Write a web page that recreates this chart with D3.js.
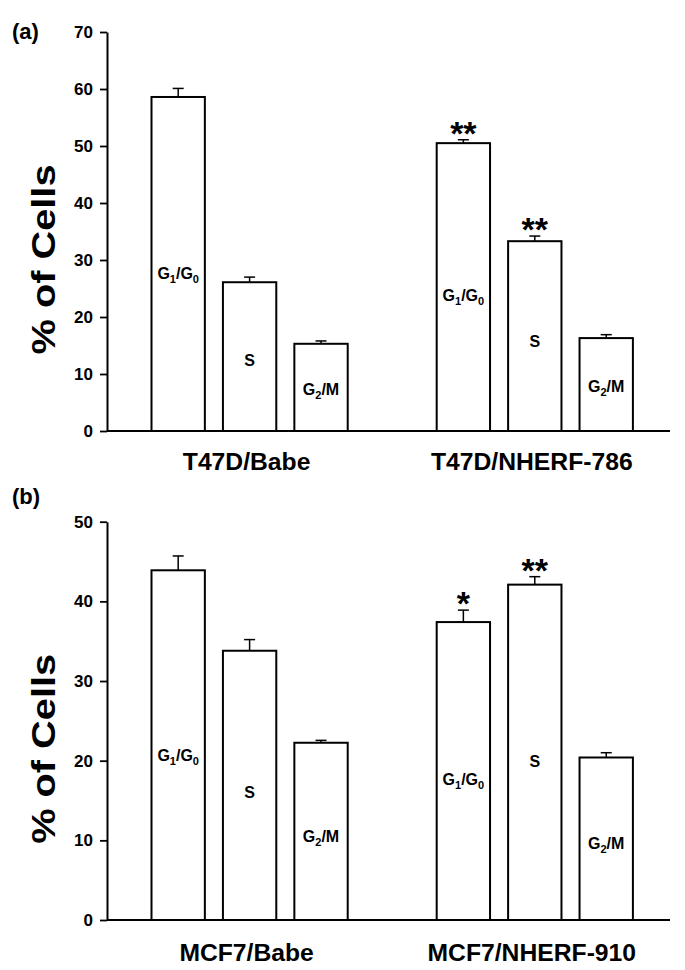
<!DOCTYPE html>
<html><head><meta charset="utf-8">
<script src="https://cdn.jsdelivr.net/npm/d3@7/dist/d3.min.js"></script>
<style>body{margin:0;background:#fff}svg{display:block}text{font-family:Arial,"Liberation Sans",sans-serif;font-weight:bold;fill:#000}</style>
</head><body>
<svg id="chart" width="685" height="970"></svg>
<script>
// ---- data ----
const phases = ["G1/G0", "S", "G2/M"];
const groupsA = ["T47D/Babe", "T47D/NHERF-786"];
const valuesA = [[58.6, 26.1, 15.3], [50.5, 33.3, 16.3]];
const errorsA = [[1.5, 0.9, 0.5], [0.6, 0.9, 0.6]];
const signifA = [["", "", ""], ["**", "**", ""]];
const ticksA = [0, 10, 20, 30, 40, 50, 60, 70];

const groupsB = ["MCF7/Babe", "MCF7/NHERF-910"];
const valuesB = [[43.9, 33.8, 22.25], [37.4, 42.1, 20.4]];
const errorsB = [[1.8, 1.4, 0.3], [1.5, 1.0, 0.6]];
const signifB = [["", "", ""], ["*", "**", ""]];
const ticksB = [0, 10, 20, 30, 40, 50];

const svg = d3.select("#chart");

function phaseLabel(sel, p) {
  if (p === "S") { sel.append("tspan").text("S"); return; }
  if (p === "G1/G0") {
    sel.append("tspan").text("G");
    sel.append("tspan").attr("font-size", 11).attr("dy", 4).text("1");
    sel.append("tspan").attr("dy", -4).text("/G");
    sel.append("tspan").attr("font-size", 11).attr("dy", 4).text("0");
  } else {
    sel.append("tspan").text("G");
    sel.append("tspan").attr("font-size", 11).attr("dy", 4).text("2");
    sel.append("tspan").attr("dy", -4).text("/M");
  }
}

function panel(opt) {
  const g = svg.append("g");
  const y = d3.scaleLinear().domain([0, opt.max]).range([opt.y0, opt.y1]);
  const x0 = d3.scaleBand().domain(opt.groups).range([151.5, 632.9]).paddingInner(0.312).paddingOuter(0);
  const x1 = d3.scaleBand().domain(phases).range([0, x0.bandwidth()]).paddingInner(0.253).paddingOuter(0);

  const ax = g.append("g").attr("transform", `translate(${opt.axisX},0)`)
    .call(d3.axisLeft(y).tickValues(opt.ticks).tickSize(7).tickSizeOuter(0).tickPadding(7).tickFormat(d3.format("d")));
  ax.select(".domain").attr("stroke", "#000").attr("stroke-width", 2);
  ax.selectAll(".tick line").attr("stroke", "#000").attr("stroke-width", 1.8);
  ax.selectAll(".tick text").attr("font-size", 17).attr("font-weight", "bold").attr("fill", "#000")
    .attr("font-family", "Arial, 'Liberation Sans', sans-serif");

  g.append("line").attr("x1", opt.axisX).attr("x2", opt.axisEnd).attr("y1", y(0)).attr("y2", y(0))
    .attr("stroke", "#000").attr("stroke-width", 2);

  opt.groups.forEach((grp, gi) => {
    const gg = g.append("g").attr("transform", `translate(${x0(grp)},0)`);
    phases.forEach((p, pi) => {
      const v = opt.values[gi][pi], e = opt.errors[gi][pi];
      const bx = x1(p), bw = x1.bandwidth(), cx = bx + bw / 2;
      gg.append("line").attr("x1", cx).attr("x2", cx).attr("y1", y(v)).attr("y2", y(v + e))
        .attr("stroke", "#000").attr("stroke-width", 1.5);
      gg.append("line").attr("x1", cx - 5.5).attr("x2", cx + 5.5).attr("y1", y(v + e)).attr("y2", y(v + e))
        .attr("stroke", "#000").attr("stroke-width", 1.5);
      gg.append("rect").attr("x", bx).attr("y", y(v)).attr("width", bw).attr("height", y(0) - y(v))
        .attr("fill", "#fff").attr("stroke", "#000").attr("stroke-width", 2);
      const t = gg.append("text").attr("x", cx).attr("y", y(v * 0.47) + 5)
        .attr("text-anchor", "middle").attr("font-size", 16);
      phaseLabel(t, p);
      const s = opt.signif[gi][pi];
      if (s) {
        gg.append("text").attr("x", cx).attr("y", y(v + e) + 5).attr("text-anchor", "middle")
          .attr("font-size", 34).text(s);
      }
    });
    g.append("text").attr("x", x0(grp) + x0.bandwidth() / 2 - 3).attr("y", y(0) + opt.groupDy)
      .attr("text-anchor", "middle").attr("font-size", 24.7).text(grp);
  });

  const my = (opt.y0 + opt.y1) / 2 + 28;
  g.append("text").attr("transform", `translate(55,${my}) rotate(-90)`).attr("text-anchor", "middle")
    .attr("font-size", 33).attr("textLength", 190).attr("lengthAdjust", "spacingAndGlyphs").text("% of Cells");
  g.append("text").attr("x", 12).attr("y", opt.letterY).attr("font-size", 22).text(opt.letter);
}

panel({ groups: groupsA, values: valuesA, errors: errorsA, signif: signifA, ticks: ticksA, max: 70,
  y0: 431, y1: 32, axisX: 107, axisEnd: 670, groupDy: 39, letter: "(a)", letterY: 39 });
panel({ groups: groupsB, values: valuesB, errors: errorsB, signif: signifB, ticks: ticksB, max: 50,
  y0: 920, y1: 521.7, axisX: 107, axisEnd: 670, groupDy: 41, letter: "(b)", letterY: 504 });
</script>
</body></html>
